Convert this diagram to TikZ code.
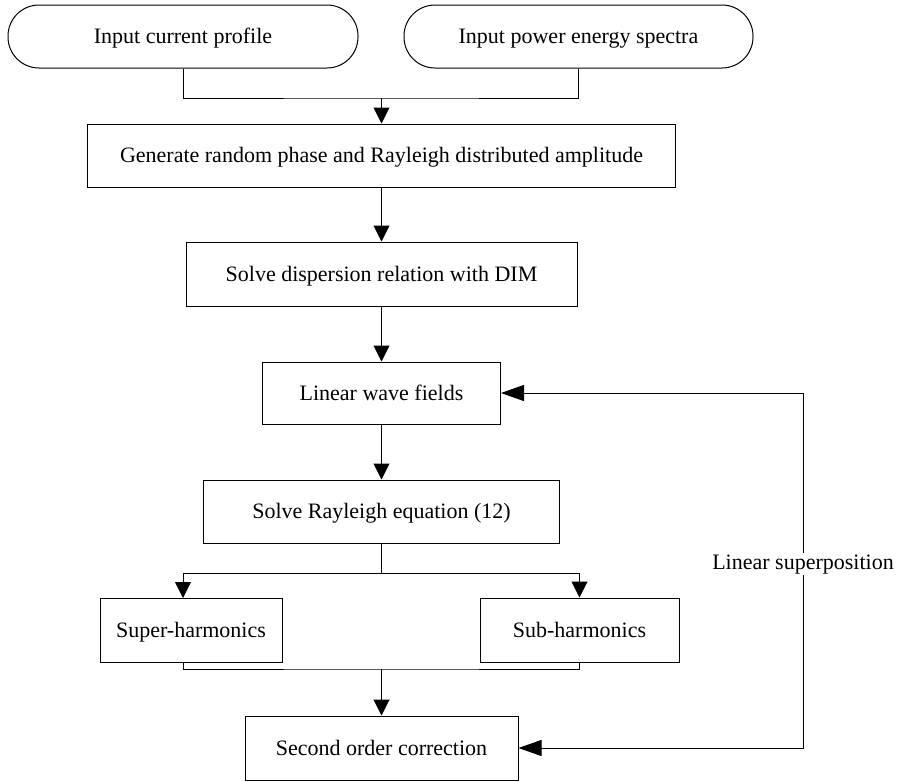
\documentclass[tikz,border=0pt]{standalone}
\usepackage{fontspec}
\setmainfont{Liberation Serif}
\usetikzlibrary{arrows.meta,calc}
\begin{document}
\begin{tikzpicture}[x=1pt,y=-1pt,
  box/.style={draw, line width=1pt, minimum height=63pt, inner sep=0pt,
    text height=14.8pt, text depth=0pt,
    font=\fontsize{22}{26}\selectfont},
  term/.style={box, rounded corners=31pt},
  conn/.style={line width=1pt},
  varrow/.style={conn, -{Triangle[length=16pt,width=16pt]}},
  fbarrow/.style={conn, {Triangle[length=23pt,width=16pt]}-{Triangle[length=23pt,width=16pt]}},
  lbl/.style={fill=white, inner sep=1pt, font=\fontsize{22}{26}\selectfont}]
\useasboundingbox (0,0) rectangle (900,782);

\node[term, minimum width=350pt] (in1) at (183,36.5) {Input current profile};
\node[term, minimum width=349pt] (in2) at (578.5,36.5) {Input power energy spectra};
\node[box, minimum width=588pt] (gen) at (381.5,155.5) {Generate random phase and Rayleigh distributed amplitude};
\node[box, minimum width=391pt, minimum height=64pt] (disp) at (381.5,274) {Solve dispersion relation with DIM};
\node[box, minimum width=238pt, minimum height=62pt] (lin) at (381.5,393) {Linear wave fields};
\node[box, minimum width=356pt] (ray) at (381.5,511.5) {Solve Rayleigh equation (12)};
\node[box, minimum width=182pt, minimum height=64pt] (sup) at (191,630) {Super-harmonics};
\node[box, minimum width=199pt, minimum height=64pt] (sub) at (579.5,630) {Sub-harmonics};
\node[box, minimum width=273pt, minimum height=64pt] (sec) at (381.5,748) {Second order correction};

\coordinate (j1) at (381.5,98);
\coordinate (j2) at (381.5,573);
\coordinate (j3) at (381.5,669);
\coordinate (sa) at (183,598);
\coordinate (fb) at (803,0);

\draw[conn] (in1.south) |- (j1) -| (in2.south);
\draw[varrow] (j1) -- (gen.north);
\draw[varrow] (gen.south) -- (disp.north);
\draw[varrow] (disp.south) -- (lin.north);
\draw[varrow] (lin.south) -- (ray.north);
\draw[conn] (ray.south) -- (j2);
\draw[varrow] (j2) -| (sa);
\draw[varrow] (j2) -| (sub.north);
\draw[conn] (sup.south -| sa) |- (j3) -| (sub.south);
\draw[varrow] (j3) -- (sec.north);
\draw[fbarrow] (sec.east) -- (sec.east -| fb) |- (lin.east);
\node[lbl, anchor=base] (lab) at (803,569) {Linear superposition};
\end{tikzpicture}
\end{document}
